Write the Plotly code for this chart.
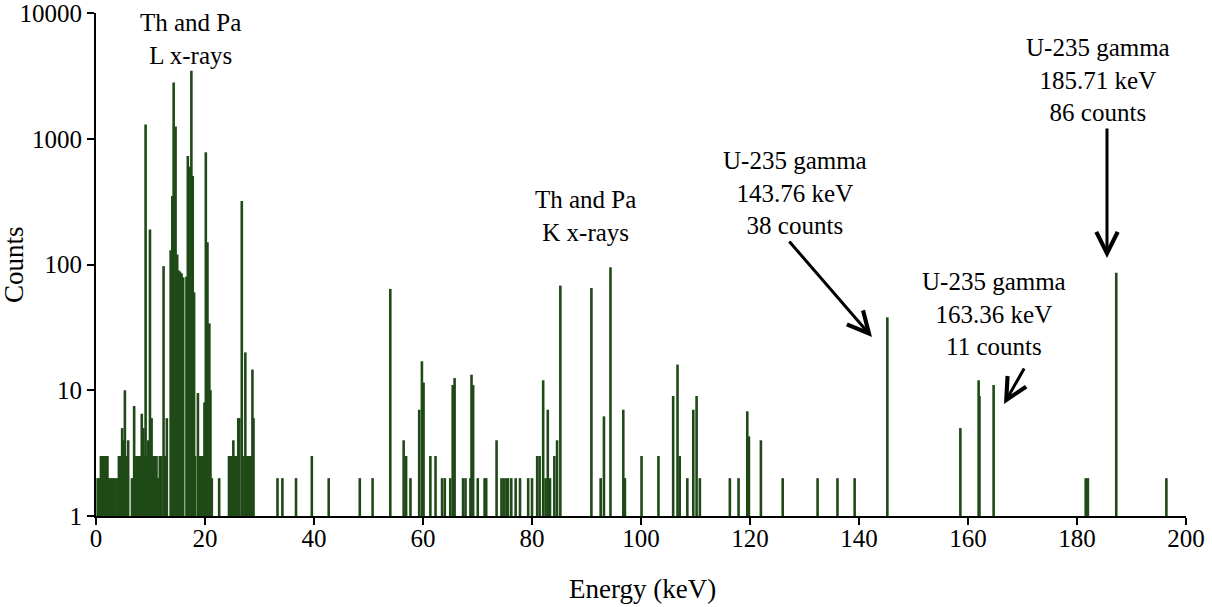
import plotly.graph_objects as go

# ---- data: energy (keV) and counts of each spectrum channel ----
low_energy = [0.3, 0.6, 0.9, 1.2, 1.5, 1.8, 2.1, 2.4, 2.7, 3.0, 3.3, 3.6, 4.0, 4.2, 4.5, 4.8, 5.0,
              5.3, 5.6, 5.9, 6.6, 7.0, 7.3, 7.6, 7.9, 8.2, 8.4, 8.7, 8.9, 9.1, 9.4, 9.6, 9.9, 10.2,
              10.5, 10.8, 11.1, 11.4, 11.7, 12.0, 12.4, 12.7, 13.0, 13.7, 14.0, 14.25, 14.6, 14.9,
              15.1, 15.4, 15.7, 16.0, 16.6, 16.85, 17.15, 17.5, 17.75, 18.0, 18.2, 18.7, 19.0,
              19.3, 19.6, 19.9, 20.15, 20.45, 20.8, 21.0, 21.25, 22.6, 24.4, 24.6, 24.9, 25.2,
              25.5, 25.8, 26.1, 26.3, 26.75, 27.0, 27.4, 27.7, 27.9, 28.1, 28.4, 28.7, 28.9]
low_counts = [2, 2, 3, 3, 3, 3, 3, 2, 2, 2, 2, 2, 2, 3, 3, 5, 4,
              10, 3, 4, 2, 7.5, 3, 3, 3, 3, 6.5, 5, 3, 1300, 3, 4, 190, 6,
              3, 3, 3, 2, 3, 3, 97, 3, 6, 130, 350, 2800, 1250, 120,
              90, 88, 85, 79, 80, 730, 600, 3470, 505, 60, 3, 9.5, 3,
              3, 3, 8, 780, 150, 34, 10, 2, 2, 3, 3, 3, 4,
              3, 3, 6, 6, 320, 3, 20, 3, 3, 3, 3, 14.6, 6]

high_energy = [33.3, 34.2, 36.7, 39.6, 42.7, 48.4, 50.75, 54.0, 56.45, 56.9, 57.7, 59.3, 59.8,
               60.1, 61.35, 62.3, 63.5, 64.0, 65.0, 65.45, 65.8, 67.35, 67.8, 68.7, 68.9, 69.2,
               70.05, 71.3, 71.6, 73.5, 74.4, 74.8, 75.3, 75.6, 76.2, 77.0, 77.8, 79.3, 80.0,
               80.95, 81.4, 82.05, 82.5, 82.9, 83.3, 84.1, 84.6, 85.2, 90.9, 92.6, 93.2, 94.4,
               96.75, 97.05, 100.1, 103.2, 105.9, 106.7, 107.1, 108.5, 109.6, 110.2, 110.8,
               116.3, 117.9, 119.5, 119.8, 122.0, 126.0, 132.4, 136.05, 139.2, 145.2, 158.6,
               161.95, 162.1, 164.7, 181.6, 182.0, 187.2, 196.4]
high_counts = [2, 2, 2, 3, 2, 2, 2, 64, 4, 3, 2, 7, 17,
               11.5, 3, 3, 2, 2, 2, 11, 12.5, 2, 2, 2, 13.3, 11,
               2, 2, 2, 4, 2, 2, 2, 2, 2, 2, 2, 2, 2,
               3, 3, 12, 2, 7, 2, 3, 4, 68, 65, 2, 6.2, 95,
               7, 2, 3, 3, 9, 16, 3, 2, 7, 9, 2,
               2, 2, 6.8, 4.3, 4, 2, 2, 2, 2, 38, 5,
               12, 9, 11, 2, 2, 86, 2]

x_ticks = [0, 20, 40, 60, 80, 100, 120, 140, 160, 180, 200]
y_ticks = [1, 10, 100, 1000, 10000]
y_tick_text = ["1", "10", "100", "1000", "10000"]

energies = low_energy + high_energy
counts = low_counts + high_counts

# ---- build spike segments ----
xs, ys = [], []
for e, c in zip(energies, counts):
    xs += [e, e, None]
    ys += [1, c, None]

FONT = "Liberation Serif, Times New Roman, serif"
GREEN = "#1f4a17"

fig = go.Figure()
fig.add_trace(go.Scatter(x=xs, y=ys, mode="lines",
                         line=dict(color=GREEN, width=2.6),
                         hoverinfo="skip", showlegend=False))

# plot area in pixels
L, R, T, B = 96, 1186, 13, 516
W, H = 1212, 607


def px(x):
    return (x - L) / (R - L)


def py(y):
    return (B - y) / (B - T)


axis_common = dict(showgrid=False, zeroline=False, automargin=False,
                   ticklabeloverflow="allow",
                   showline=True, linecolor="black", linewidth=2,
                   ticks="outside", ticklen=7, tickwidth=2, tickcolor="black",
                   tickfont=dict(family=FONT, size=25, color="black"))

fig.update_layout(
    width=W, height=H,
    margin=dict(l=L, r=W - R, t=T, b=H - B),
    plot_bgcolor="white", paper_bgcolor="white",
    font=dict(family=FONT, size=24, color="black"),
    showlegend=False,
    xaxis=dict(range=[0, 200], tickvals=x_ticks, ticklabelstandoff=-8, **axis_common),
    yaxis=dict(type="log", range=[0, 4], tickvals=y_ticks, ticktext=y_tick_text,
               **axis_common),
)

ann = []


def text(t, x, y, size=25, angle=0):
    ann.append(dict(text=t, x=px(x), y=py(y), xref="paper", yref="paper",
                    showarrow=False, xanchor="center", yanchor="middle",
                    textangle=angle, font=dict(family=FONT, size=size, color="black")))


def arrow(x_tip, y_tip, x_tail, y_tail):
    ann.append(dict(text="", x=px(x_tip), y=py(y_tip), xref="paper", yref="paper",
                    ax=x_tail - x_tip, ay=y_tail - y_tip, axref="pixel", ayref="pixel",
                    showarrow=True, arrowhead=5, arrowsize=1.4, arrowwidth=3,
                    arrowcolor="black", standoff=0, startstandoff=0))


text("Th and Pa<br>L x-rays", 190, 39)
text("Th and Pa<br>K x-rays", 585, 216)
text("U-235 gamma<br>143.76 keV<br>38 counts", 795, 193)
text("U-235 gamma<br>185.71 keV<br>86 counts", 1098, 80)
text("U-235 gamma<br>163.36 keV<br>11 counts", 994, 314)
text("Counts", 14, 265, size=27, angle=-90)
text("Energy (keV)", 643, 589, size=27)

arrow(872, 337, 788, 240)
arrow(1107, 258, 1107, 127)
arrow(1004, 404, 1025, 367)

fig.update_layout(annotations=ann)
fig.write_html("out.html")
